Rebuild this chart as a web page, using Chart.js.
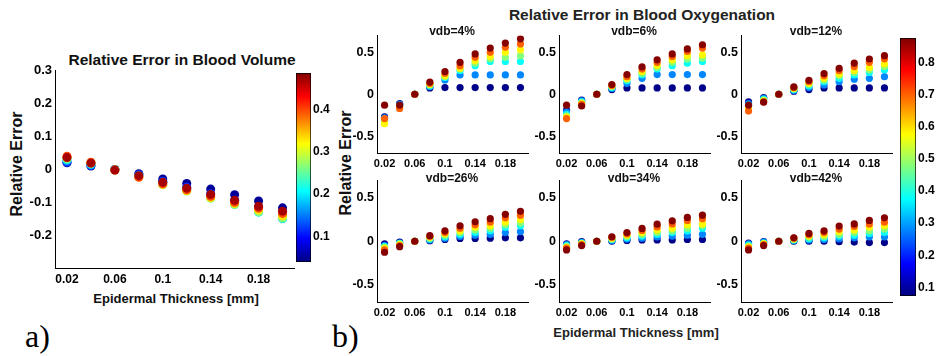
<!DOCTYPE html>
<html>
<head>
<meta charset="utf-8">
<script src="https://cdn.jsdelivr.net/npm/chart.js"></script>
<style>
body { margin: 0; background: #fff; }
#fig { position: relative; width: 936px; height: 356px; overflow: hidden; background: #fff;
       font-family: "Liberation Sans", Arial, sans-serif; font-weight: bold; }
#fig canvas { position: absolute; }
.txt { position: absolute; line-height: 1; white-space: nowrap; transform: translate(-50%, -50%); color: #111; }
.rot { transform: translate(-50%, -50%) rotate(-90deg); }
.lab { position: absolute; font-family: "Liberation Serif", "Times New Roman", serif; font-weight: normal;
       font-size: 32px; line-height: 1; color: #000; }
</style>
</head>
<body>
<div id="fig">
  <div class="txt" style="left:182px; top:60px; font-size:15.5px;">Relative Error in Blood Volume</div>
  <div class="txt rot" style="left:17px; top:164px; font-size:16px;">Relative Error</div>
  <div class="txt" style="left:176px; top:298px; font-size:13px;">Epidermal Thickness [mm]</div>
  <div class="lab" style="left:25px; top:320px;">a)</div>

  <div class="txt" style="left:642px; top:15px; font-size:15.5px; color:#222;">Relative Error in Blood Oxygenation</div>
  <div class="txt rot" style="left:346px; top:163px; font-size:16px;">Relative Error</div>
  <div class="txt" style="left:636px; top:332px; font-size:13px; color:#222;">Epidermal Thickness [mm]</div>
  <div class="lab" style="left:332px; top:320px;">b)</div>
</div>
<script>
// epidermal thickness [mm], same for every panel
const thickness = [0.02, 0.04, 0.06, 0.08, 0.1, 0.12, 0.14, 0.16, 0.18, 0.2];
const xTicks = [0.02, 0.06, 0.1, 0.14, 0.18];

// a) blood volume error, one row per colour level
const volLevels = [0.05, 0.12, 0.19, 0.26, 0.33, 0.40, 0.47];
const volRange = [0.039, 0.487];
const volTicks = [-0.2, -0.1, 0, 0.1, 0.2, 0.3];
const volBarTicks = [0.1, 0.2, 0.3, 0.4];
const volErr = [
  [0.02, 0.01, 0, -0.013, -0.029, -0.043, -0.06, -0.077, -0.096, -0.117],
  [0.022, 0.012, 0, -0.016, -0.036, -0.054, -0.074, -0.094, -0.116, -0.138],
  [0.028, 0.015, -0.001, -0.019, -0.044, -0.063, -0.086, -0.106, -0.13, -0.15],
  [0.032, 0.018, -0.001, -0.021, -0.047, -0.066, -0.088, -0.107, -0.129, -0.148],
  [0.036, 0.02, -0.002, -0.023, -0.046, -0.065, -0.086, -0.104, -0.124, -0.142],
  [0.04, 0.022, -0.002, -0.024, -0.044, -0.062, -0.082, -0.1, -0.118, -0.134],
  [0.036, 0.019, -0.002, -0.019, -0.039, -0.057, -0.076, -0.094, -0.112, -0.127]
];

// b) oxygenation error, six vdb panels
const oxyLevels = [0.08, 0.28, 0.38, 0.48, 0.58, 0.70, 0.87];
const oxyRange = [0.073, 0.876];
const oxyTicks = [-0.5, 0, 0.5];
const oxyBarTicks = [0.1, 0.2, 0.3, 0.4, 0.5, 0.6, 0.7, 0.8];
const vdbNames = ['vdb=4%', 'vdb=6%', 'vdb=12%', 'vdb=26%', 'vdb=34%', 'vdb=42%'];

const vdb04 = [
  [-0.27, -0.11, 0, 0.075, 0.08, 0.08, 0.08, 0.08, 0.08, 0.08],
  [-0.28, -0.12, 0, 0.09, 0.17, 0.23, 0.23, 0.23, 0.23, 0.23],
  [-0.31, -0.13, 0, 0.1, 0.2, 0.28, 0.34, 0.39, 0.39, 0.39],
  [-0.33, -0.14, 0, 0.11, 0.21, 0.3, 0.37, 0.42, 0.44, 0.46],
  [-0.35, -0.15, 0, 0.12, 0.22, 0.31, 0.4, 0.45, 0.5, 0.53],
  [-0.29, -0.17, 0, 0.13, 0.25, 0.34, 0.44, 0.5, 0.56, 0.6],
  [-0.13, -0.13, 0, 0.145, 0.27, 0.38, 0.48, 0.55, 0.61, 0.66]
];
const vdb06 = [
  [-0.19, -0.07, 0, 0.056, 0.075, 0.075, 0.075, 0.075, 0.075, 0.075],
  [-0.21, -0.08, 0, 0.07, 0.13, 0.19, 0.234, 0.234, 0.234, 0.234],
  [-0.24, -0.09, 0, 0.08, 0.16, 0.23, 0.3, 0.34, 0.37, 0.39],
  [-0.26, -0.1, 0, 0.09, 0.18, 0.25, 0.32, 0.38, 0.42, 0.43],
  [-0.27, -0.11, 0, 0.1, 0.19, 0.27, 0.345, 0.41, 0.46, 0.47],
  [-0.29, -0.12, 0, 0.105, 0.21, 0.3, 0.38, 0.45, 0.51, 0.55],
  [-0.13, -0.14, 0, 0.115, 0.234, 0.325, 0.41, 0.48, 0.54, 0.59]
];
const vdb12 = [
  [-0.09, -0.04, 0, 0.036, 0.056, 0.075, 0.075, 0.075, 0.075, 0.075],
  [-0.11, -0.05, 0, 0.045, 0.08, 0.11, 0.15, 0.18, 0.19, 0.21],
  [-0.13, -0.06, 0, 0.055, 0.1, 0.15, 0.19, 0.23, 0.26, 0.29],
  [-0.15, -0.07, 0, 0.065, 0.12, 0.17, 0.22, 0.26, 0.29, 0.33],
  [-0.17, -0.08, 0, 0.07, 0.13, 0.19, 0.24, 0.28, 0.32, 0.36],
  [-0.2, -0.09, 0, 0.08, 0.15, 0.22, 0.28, 0.33, 0.38, 0.42],
  [-0.13, -0.095, 0, 0.087, 0.167, 0.246, 0.31, 0.37, 0.42, 0.46]
];
const vdb26 = [
  [-0.03, -0.01, 0, 0.006, 0.02, 0.033, 0.033, 0.035, 0.04, 0.04],
  [-0.05, -0.02, 0, 0.015, 0.035, 0.055, 0.07, 0.08, 0.1, 0.11],
  [-0.06, -0.025, 0, 0.025, 0.05, 0.08, 0.1, 0.12, 0.16, 0.18],
  [-0.07, -0.03, 0, 0.035, 0.07, 0.1, 0.13, 0.15, 0.19, 0.21],
  [-0.08, -0.04, 0, 0.045, 0.085, 0.12, 0.16, 0.18, 0.22, 0.25],
  [-0.1, -0.05, 0, 0.055, 0.1, 0.15, 0.19, 0.22, 0.27, 0.3],
  [-0.127, -0.062, 0, 0.064, 0.12, 0.178, 0.224, 0.26, 0.31, 0.345]
];
const vdb34 = [
  [-0.03, -0.005, 0, 0, 0.01, 0.015, 0.015, 0.015, 0.02, 0.02],
  [-0.04, -0.012, 0, 0.01, 0.025, 0.035, 0.05, 0.06, 0.07, 0.08],
  [-0.05, -0.02, 0, 0.02, 0.04, 0.06, 0.08, 0.1, 0.12, 0.15],
  [-0.06, -0.025, 0, 0.025, 0.055, 0.08, 0.1, 0.12, 0.15, 0.18],
  [-0.07, -0.03, 0, 0.035, 0.07, 0.1, 0.13, 0.15, 0.19, 0.2],
  [-0.08, -0.04, 0, 0.045, 0.085, 0.125, 0.165, 0.2, 0.24, 0.26],
  [-0.1, -0.05, 0, 0.052, 0.1, 0.148, 0.197, 0.235, 0.274, 0.3]
];
const vdb42 = [
  [-0.02, -0.005, 0, 0, 0, 0, -0.005, -0.01, -0.015, -0.015],
  [-0.03, -0.01, 0, 0.008, 0.015, 0.02, 0.03, 0.04, 0.05, 0.05],
  [-0.045, -0.02, 0, 0.015, 0.03, 0.04, 0.06, 0.07, 0.09, 0.1],
  [-0.055, -0.025, 0, 0.02, 0.045, 0.055, 0.08, 0.1, 0.12, 0.14],
  [-0.065, -0.03, 0, 0.028, 0.06, 0.075, 0.11, 0.13, 0.16, 0.18],
  [-0.08, -0.04, 0, 0.035, 0.075, 0.1, 0.14, 0.17, 0.2, 0.22],
  [-0.1, -0.05, 0, 0.04, 0.09, 0.12, 0.175, 0.2, 0.24, 0.27]
];
const oxyPanels = [vdb04, vdb06, vdb12, vdb26, vdb34, vdb42];

const fig = document.getElementById('fig');
const FONT = '"Liberation Sans", Arial, sans-serif';

// matlab jet colormap
function jet(t) {
  const c = v => Math.round(255 * Math.max(0, Math.min(1, v)));
  return 'rgb(' + c(1.5 - Math.abs(4 * t - 3)) + ',' + c(1.5 - Math.abs(4 * t - 2)) + ',' + c(1.5 - Math.abs(4 * t - 1)) + ')';
}

function addCanvas(left, top, w, h) {
  const c = document.createElement('canvas');
  c.width = w; c.height = h;
  c.style.left = left + 'px'; c.style.top = top + 'px';
  fig.appendChild(c);
  return c;
}

function addText(txt, x, y, size) {
  const d = document.createElement('div');
  d.className = 'txt';
  d.style.left = x + 'px'; d.style.top = y + 'px'; d.style.fontSize = size + 'px';
  d.textContent = txt;
  fig.appendChild(d);
}

function scatterPanel(p) {
  const canvas = addCanvas(p.left - p.yW, p.top - 10, p.yW + p.w + 4, 10 + p.h + p.xH);
  const datasets = p.series.map((vals, i) => ({
    data: thickness.map((x, j) => ({ x: x, y: vals[j] })),
    backgroundColor: jet((p.levels[i] - p.range[0]) / (p.range[1] - p.range[0])),
    borderWidth: 0,
    pointRadius: p.radius,
    order: p.series.length - i
  }));
  return new Chart(canvas, {
    type: 'scatter',
    data: { datasets: datasets },
    options: {
      responsive: false, animation: false, events: [],
      layout: { padding: { top: 10, right: 4, bottom: 0, left: 0 } },
      plugins: { legend: { display: false }, tooltip: { enabled: false } },
      scales: {
        x: {
          type: 'linear', min: 0.01, max: 0.21,
          grid: { display: false, drawTicks: false },
          border: { color: '#000', width: 1 },
          ticks: { padding: 4, color: '#000', autoSkip: false, maxRotation: 0,
                   font: { family: FONT, size: p.xFont, weight: 'bold' }, callback: v => String(v) },
          afterBuildTicks: s => { s.ticks = xTicks.map(v => ({ value: v })); },
          afterFit: s => { s.height = p.xH; }
        },
        y: {
          min: p.yMin, max: p.yMax,
          grid: { display: false, drawTicks: false },
          border: { color: '#000', width: 1 },
          ticks: { padding: 3, color: '#000', autoSkip: false,
                   font: { family: FONT, size: p.yFont, weight: 'bold' }, callback: v => String(v) },
          afterBuildTicks: s => { s.ticks = p.yTicks.map(v => ({ value: v })); },
          afterFit: s => { s.width = p.yW; }
        }
      }
    }
  });
}

function colorBar(left, top, w, h, range, ticks, labelW) {
  const canvas = addCanvas(left, top - 10, w + labelW, h + 20);
  return new Chart(canvas, {
    type: 'bar',
    data: {
      labels: [''],
      datasets: [{
        data: [[range[0], range[1]]],
        backgroundColor: ctx => {
          const a = ctx.chart.chartArea;
          if (!a) return '#00f';
          const g = ctx.chart.ctx.createLinearGradient(0, a.bottom, 0, a.top);
          [0, 0.125, 0.375, 0.625, 0.875, 1].forEach(t => g.addColorStop(t, jet(t)));
          return g;
        },
        borderColor: '#000', borderWidth: 1, borderSkipped: false,
        barPercentage: 1, categoryPercentage: 1
      }]
    },
    options: {
      responsive: false, animation: false, events: [],
      layout: { padding: { top: 10, bottom: 10, left: 0, right: 0 } },
      plugins: { legend: { display: false }, tooltip: { enabled: false } },
      scales: {
        x: { display: false },
        y: {
          position: 'right', min: range[0], max: range[1],
          grid: { display: false, drawTicks: false },
          border: { display: false },
          ticks: { padding: 2, color: '#000', autoSkip: false,
                   font: { family: FONT, size: 12, weight: 'bold' }, callback: v => String(v) },
          afterBuildTicks: s => { s.ticks = ticks.map(v => ({ value: v })); },
          afterFit: s => { s.width = labelW; }
        }
      }
    }
  });
}

// a)
scatterPanel({ left: 55, top: 70, w: 240, h: 198, yW: 40, xH: 30, radius: 4.5,
               yMin: -0.3, yMax: 0.3, yTicks: volTicks, yFont: 13, xFont: 12,
               series: volErr, levels: volLevels, range: volRange });
colorBar(296, 73, 15, 189, volRange, volBarTicks, 30);

// b)
const cols = [377, 559, 741];
const rows = [{ top: 35, h: 118, title: 31 }, { top: 180, h: 122, title: 178 }];
oxyPanels.forEach((series, k) => {
  const col = cols[k % 3], row = rows[Math.floor(k / 3)];
  scatterPanel({ left: col, top: row.top, w: 151, h: row.h, yW: 32, xH: 22, radius: 3.6,
                 yMin: -0.7, yMax: 0.7, yTicks: oxyTicks, yFont: 12.5, xFont: 11,
                 series: series, levels: oxyLevels, range: oxyRange });
  addText(vdbNames[k], col + 75, row.title, 12);
});
colorBar(900, 38, 16, 258, oxyRange, oxyBarTicks, 20);
</script>
</body>
</html>
